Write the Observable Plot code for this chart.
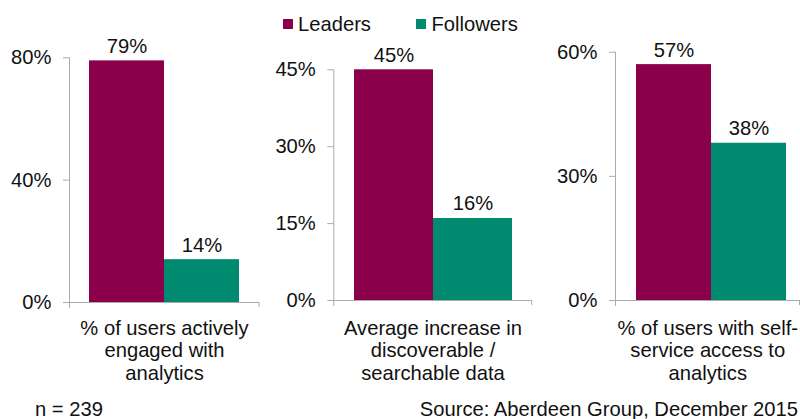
<!DOCTYPE html>
<html>
<head>
<meta charset="utf-8">
<script src="https://cdn.jsdelivr.net/npm/d3@7"></script>
<script src="https://cdn.jsdelivr.net/npm/@observablehq/plot@0.6"></script>
<style>
  html, body { margin: 0; padding: 0; background: #fff; }
  body { width: 800px; height: 419px; overflow: hidden; font-family: "Liberation Sans", Arial, sans-serif; color: #111; }
  #wrap { position: relative; width: 800px; height: 419px; }
  .abs { position: absolute; }
  .txt { font-size: 20.2px; line-height: 18px; white-space: nowrap; }
  .sw { position: absolute; width: 10px; height: 10px; }
</style>
</head>
<body>
<div id="wrap"></div>
<script>
// ---- data ----
const categories = [
  "% of users actively\nengaged with\nanalytics",
  "Average increase in\ndiscoverable /\nsearchable data",
  "% of users with self-\nservice access to\nanalytics"
];
const series = ["Leaders", "Followers"];
const leaders = [0.79, 0.45, 0.57];
const followers = [0.14, 0.16, 0.38];
const yMax = [0.8, 0.45, 0.6];
const yTicks = [[0, 0.4, 0.8], [0, 0.15, 0.3, 0.45], [0, 0.3, 0.6]];
const colors = ["#8B004A", "#008B71"];
const note = "n = 239";
const source = "Source: Aberdeen Group, December 2015";

// ---- layout (absolute page pixels) ----
const layout = [
  {left: 0,   width: 262, axis: 69,    right: 259,   top: 57.3, base: 302, bars: [88.3, 240]},
  {left: 272, width: 262, axis: 333.3, right: 531.7, top: 69.3, base: 300, bars: [354, 512.7]},
  {left: 545, width: 255, axis: 615,   right: 799.5, top: 51.7, base: 300, bars: [635, 786]}
];
const H = 398;
const gray = "#ABABAB";
const font = "'Liberation Sans', Arial, sans-serif";
const fmt = d3.format(".0%");

const wrap = document.getElementById("wrap");

categories.forEach((cat, i) => {
  const L = layout[i];
  const data = [
    {series: series[0], value: leaders[i]},
    {series: series[1], value: followers[i]}
  ];
  const bottom = L.base + 5;
  const rightTick = (index, scales, values, dims) => {
    const g = d3.create("svg:g");
    const x = dims.width - dims.marginRight;
    g.append("line")
      .attr("x1", x).attr("x2", x)
      .attr("y1", scales.y(0)).attr("y2", dims.height - dims.marginBottom)
      .attr("stroke", gray);
    return g.node();
  };
  const chart = Plot.plot({
    width: L.width,
    height: H,
    marginLeft: L.axis - L.left,
    marginRight: L.left + L.width - L.right,
    marginTop: L.top,
    marginBottom: H - bottom,
    x: {type: "band", domain: series, range: [L.bars[0] - L.left, L.bars[1] - L.left], padding: 0, axis: null},
    y: {domain: [0, yMax[i]], range: [L.base, L.top], axis: null},
    color: {domain: series, range: colors},
    style: {background: "transparent", fontFamily: font, fontSize: "20.2px", color: "#111", overflow: "visible"},
    marks: [
      Plot.barY(data, {x: "series", y: "value", fill: "series"}),
      Plot.axisY({ticks: yTicks[i], tickFormat: fmt, tickSize: 6, tickPadding: 12, label: null, stroke: gray, fill: "#111", fontSize: 20.2}),
      Plot.frame({anchor: "left", stroke: gray}),
      Plot.ruleY([0], {stroke: gray}),
      rightTick,
      Plot.text(data, {x: "series", y: "value", text: d => fmt(d.value), dy: -8, lineAnchor: "bottom", fontSize: 20.2, fill: "#111"}),
      Plot.text([cat], {frameAnchor: "bottom", lineAnchor: "top", dy: 318 - bottom, lineHeight: 1.12, fontSize: 20.2, fill: "#111"})
    ]
  });
  chart.style.position = "absolute";
  chart.style.left = L.left + "px";
  chart.style.top = "0px";
  wrap.appendChild(chart);
});

// ---- legend ----
const legendPos = [{sw: 282.5, tx: 298}, {sw: 415.5, tx: 431.5}];
series.forEach((s, i) => {
  const sw = document.createElement("div");
  sw.className = "sw";
  sw.style.left = legendPos[i].sw + "px";
  sw.style.top = "19px";
  sw.style.background = colors[i];
  wrap.appendChild(sw);
  const t = document.createElement("div");
  t.className = "abs txt";
  t.style.left = legendPos[i].tx + "px";
  t.style.top = "15px";
  t.textContent = s;
  wrap.appendChild(t);
});

// ---- footer ----
const n = document.createElement("div");
n.className = "abs txt";
n.style.left = "35px";
n.style.top = "400px";
n.textContent = note;
wrap.appendChild(n);
const src = document.createElement("div");
src.className = "abs txt";
src.style.right = "2px";
src.style.top = "400px";
src.textContent = source;
wrap.appendChild(src);
</script>
</body>
</html>
